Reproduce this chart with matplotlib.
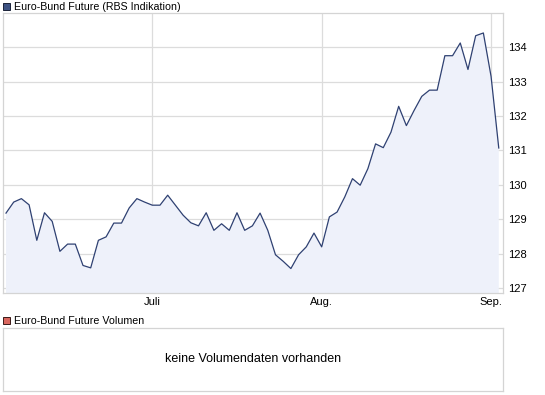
import matplotlib
matplotlib.use("Agg")
import matplotlib.pyplot as plt
import pandas as pd
from matplotlib.patches import Rectangle

# Kursdaten (Handelstage 04.06.2010 - 02.09.2010)
dates = pd.bdate_range("2010-06-04", "2010-09-02")
kurs = [129.18, 129.50, 129.60, 129.42, 128.39, 129.19, 128.94, 128.07, 128.28, 128.28,
        127.66, 127.59, 128.39, 128.49, 128.89, 128.89, 129.33, 129.60, 129.50, 129.41,
        129.41, 129.70, 129.41, 129.12, 128.90, 128.81, 129.19, 128.68, 128.87, 128.68,
        129.19, 128.68, 128.81, 129.18, 128.68, 127.97, 127.78, 127.57, 127.97, 128.20,
        128.60, 128.20, 129.07, 129.21, 129.65, 130.18, 129.99, 130.47, 131.19, 131.08,
        131.53, 132.28, 131.72, 132.16, 132.57, 132.75, 132.75, 133.75, 133.75, 134.12,
        133.35, 134.33, 134.41, 133.15, 131.07]
monate = ["Juli", "Aug.", "Sep."]
y_ticks = [127, 128, 129, 130, 131, 132, 133, 134]

W, H = 545, 395
plt.rcParams['font.family'] = ['Liberation Sans', 'DejaVu Sans']
fig = plt.figure(figsize=(W / 100, H / 100), dpi=100)

def box(x0, y0, x1, y1):
    # Pixelkoordinaten (oben links) -> Figurenanteile
    return [x0 / W, 1 - y1 / H, (x1 - x0) / W, (y1 - y0) / H]

grau = "#d4d4d4"
linie = "#2f4172"

# Hauptchart
ax = fig.add_axes(box(3, 13, 503, 293))
x = list(range(len(kurs)))
ax.fill_between(x, kurs, 120, color="#eef1fa", lw=0)
ax.plot(x, kurs, color=linie, lw=0.9)
ax.set_xlim(-0.39, 64.55)
ax.set_ylim(126.86, 134.99)

# Monatsanfaenge
pos = [i for i in range(1, len(dates)) if dates[i].month != dates[i - 1].month]
ax.set_xticks(pos, monate)
ax.set_yticks(y_ticks, [str(t) for t in y_ticks])
ax.yaxis.tick_right()
ax.tick_params(length=0, labelsize=8, colors="black", pad=4)
ax.tick_params(axis="x", pad=3)
ax.grid(True, color="#dcdcdc", lw=0.9)
ax.set_axisbelow(True)
for s in ax.spines.values():
    s.set_color(grau)
    s.set_linewidth(0.9)

# Legende oben
fig.add_artist(Rectangle((3 / W, 1 - 10 / H), 7 / W, 7 / H, transform=fig.transFigure,
                         facecolor="#3d5282", edgecolor="#1a2238", lw=0.7))
fig.text(14 / W, 1 - 6.5 / H, "Euro-Bund Future (RBS Indikation)", fontsize=7.7,
         va="center", ha="left")

# Volumen-Panel
fig.add_artist(Rectangle((3 / W, 1 - 324 / H), 7 / W, 7 / H, transform=fig.transFigure,
                         facecolor="#d9665e", edgecolor="#3a1a18", lw=0.7))
fig.text(14 / W, 1 - 320.5 / H, "Euro-Bund Future Volumen", fontsize=7.7,
         va="center", ha="left")
ax2 = fig.add_axes(box(3, 328, 503, 391))
ax2.set_xticks([])
ax2.set_yticks([])
for s in ax2.spines.values():
    s.set_color(grau)
    s.set_linewidth(0.9)
ax2.text(0.5, 0.5, "keine Volumendaten vorhanden", transform=ax2.transAxes,
         ha="center", va="center", fontsize=9)

fig.savefig("out.png", dpi=100)
